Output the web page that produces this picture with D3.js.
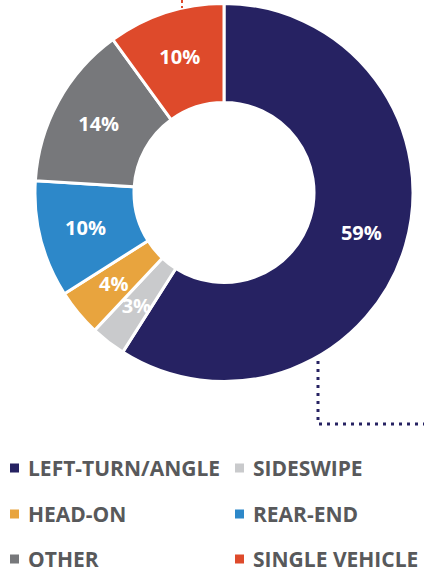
<!DOCTYPE html>
<html>
<head>
<meta charset="utf-8">
<script src="https://cdn.jsdelivr.net/npm/d3@7/dist/d3.min.js"></script>
<style>
  html, body { margin: 0; padding: 0; background: #fff; }
  svg { display: block; }
</style>
</head>
<body>
<svg id="chart" width="424" height="573"></svg>
<script>
// Crash types and their share of crashes (%)
const categories = ["LEFT-TURN/ANGLE", "SIDESWIPE", "HEAD-ON", "REAR-END", "OTHER", "SINGLE VEHICLE"];
const shares = [59, 3, 4, 10, 14, 10];
const colors = ["#262262", "#c9cacc", "#e8a43e", "#2d88c9", "#77787b", "#de4a2b"];

const svg = d3.select("#chart");
const cx = 224, cy = 192.5;
const rOuter = 189, rInner = 90;
const labelFont = "'Open Sans', 'Noto Sans', sans-serif";

const data = categories.map((c, i) => ({ cat: c, value: shares[i], color: colors[i] }));

const pie = d3.pie().value(d => d.value).sort(null);
const arcs = pie(data);
const arc = d3.arc().innerRadius(rInner).outerRadius(rOuter);
const labelArc = d3.arc().innerRadius(143).outerRadius(143);

const g = svg.append("g").attr("transform", `translate(${cx},${cy})`);

g.selectAll("path.slice")
  .data(arcs)
  .join("path")
  .attr("class", "slice")
  .attr("d", arc)
  .attr("fill", d => d.data.color)
  .attr("stroke", "#fff")
  .attr("stroke-width", 3)
  .attr("stroke-linejoin", "miter");

g.selectAll("text.pct")
  .data(arcs)
  .join("text")
  .attr("class", "pct")
  .attr("transform", d => {
    const [x, y] = labelArc.centroid(d);
    return `translate(${x},${y})`;
  })
  .attr("text-anchor", "middle")
  .attr("dy", "0.36em")
  .attr("fill", "#fff")
  .attr("font-family", labelFont)
  .attr("font-weight", 700)
  .attr("font-size", 20)
  .text(d => d.data.value + "%");

// Dotted leader lines
const leader = d3.line();
svg.append("path")
  .attr("d", leader([[318, 361], [318, 424], [424, 424]]))
  .attr("fill", "none")
  .attr("stroke", colors[0])
  .attr("stroke-width", 3)
  .attr("stroke-dasharray", "3,5");

svg.append("path")
  .attr("d", leader([[182, 0], [182, 8]]))
  .attr("fill", "none")
  .attr("stroke", colors[5])
  .attr("stroke-width", 2)
  .attr("stroke-dasharray", "3,3");

// Legend: two columns, three rows
const legendX = [10, 235];
const legendY = [468, 514, 559];
const legend = svg.append("g");
data.forEach((d, i) => {
  const col = i % 2, row = Math.floor(i / 2);
  const item = legend.append("g")
    .attr("transform", `translate(${legendX[col]},${legendY[row]})`);
  item.append("rect")
    .attr("x", 0).attr("y", -4.5)
    .attr("width", 9).attr("height", 9)
    .attr("fill", d.color);
  item.append("text")
    .attr("x", 18)
    .attr("y", 0)
    .attr("dy", "0.36em")
    .attr("fill", "#58595b")
    .attr("font-family", labelFont)
    .attr("font-weight", 700)
    .attr("font-size", 21)
    .text(d.cat);
});
</script>
</body>
</html>
